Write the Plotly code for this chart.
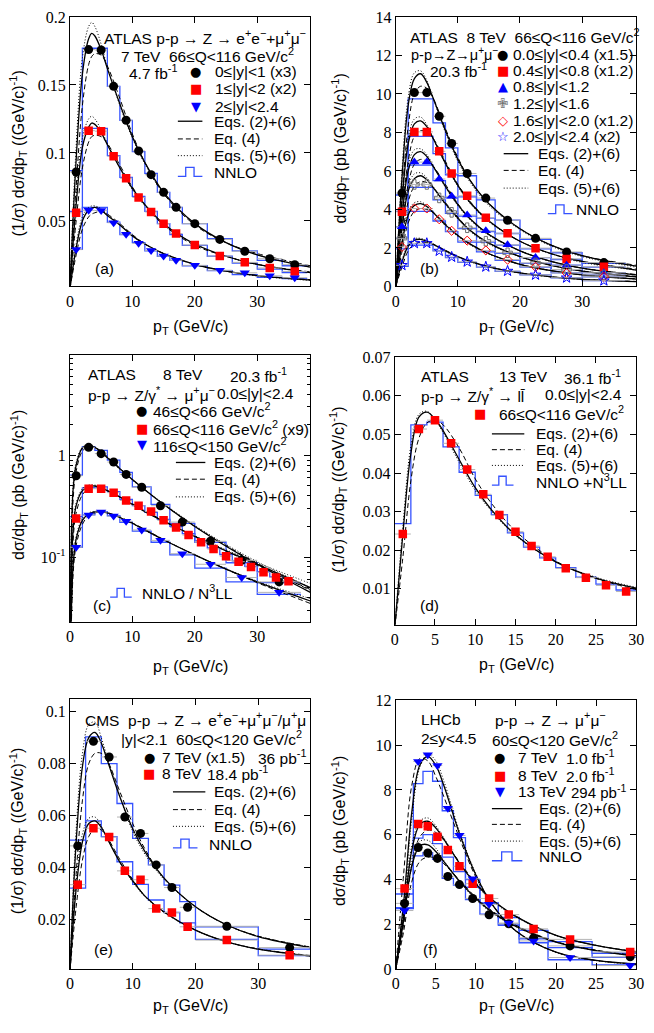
"""
Z boson transverse momentum spectra, six panels, redrawn with plotly.
"""
import plotly.graph_objects as go

# the page body has an 8 px margin, so the figure is placed 8 px in from the corner
OFF = 8
W, H = 654 - OFF, 1033 - OFF
SANS = "Liberation Sans"
SERIF = "Liberation Serif"
BLACK, RED, BLUE, GRAY = "#000000", "#ff0000", "#0000ff", "#6e6e6e"
NNLO_BLUE = "#3552ff"
ERR_GRAY = "#b4b4b4"

# ---------------- (a) ATLAS 7 TeV, normalised
a_pt = [1, 3, 5, 7, 9, 11, 13, 15, 17, 20, 24, 28, 32, 36]
a_y0 = [0.086, 0.176, 0.1757, 0.149, 0.124, 0.1015, 0.084, 0.071, 0.060, 0.048, 0.0364, 0.0277, 0.0222, 0.0178]
a_y1 = [0.056, 0.1164, 0.116, 0.0976, 0.0814, 0.0672, 0.0566, 0.048, 0.0407, 0.0323, 0.0241, 0.0195, 0.0154, 0.0128]
a_y2 = [0.0289, 0.0578, 0.0576, 0.0487, 0.0402, 0.0335, 0.0282, 0.0241, 0.021, 0.0173, 0.0137, 0.0118, 0.0096, 0.0082]
a_edges = [0, 2, 4, 6, 8, 10, 12, 14, 16, 18, 22, 26, 30, 34, 38]
a_nnlo0 = [0.087, 0.177, 0.177, 0.149, 0.124, 0.101, 0.085, 0.071, 0.060, 0.048, 0.037, 0.028, 0.021, 0.017]
a_nnlo1 = [0.057, 0.118, 0.118, 0.098, 0.082, 0.068, 0.057, 0.048, 0.040, 0.032, 0.024, 0.019, 0.0145, 0.012]
a_nnlo2 = [0.029, 0.060, 0.060, 0.049, 0.040, 0.034, 0.028, 0.024, 0.021, 0.017, 0.0135, 0.0105, 0.0085, 0.0075]
a_cx = [0, 1, 2, 3, 3.5, 4, 5, 6, 8, 10, 12, 15, 20, 25, 30, 38.5]
a_sol0 = [0, 0.095, 0.158, 0.184, 0.188, 0.186, 0.176, 0.162, 0.136, 0.112, 0.093, 0.071, 0.048, 0.034, 0.025, 0.016]
a_dsh0 = [0, 0.075, 0.135, 0.165, 0.171, 0.173, 0.172, 0.164, 0.140, 0.114, 0.093, 0.070, 0.047, 0.034, 0.026, 0.017]
a_dot0 = [0, 0.105, 0.170, 0.193, 0.196, 0.193, 0.180, 0.163, 0.135, 0.111, 0.092, 0.070, 0.048, 0.034, 0.025, 0.016]
a_sol1 = [0, 0.062, 0.104, 0.119, 0.122, 0.121, 0.115, 0.106, 0.089, 0.074, 0.062, 0.048, 0.033, 0.024, 0.018, 0.012]
a_dsh1 = [0, 0.050, 0.089, 0.108, 0.112, 0.113, 0.112, 0.107, 0.091, 0.075, 0.062, 0.047, 0.032, 0.024, 0.018, 0.0125]
a_dot1 = [0, 0.068, 0.111, 0.125, 0.127, 0.125, 0.117, 0.107, 0.089, 0.073, 0.061, 0.047, 0.033, 0.024, 0.018, 0.012]
a_sol2 = [0, 0.030, 0.050, 0.058, 0.0595, 0.060, 0.058, 0.054, 0.047, 0.039, 0.033, 0.026, 0.018, 0.013, 0.0098, 0.0065]
a_dsh2 = [0, 0.025, 0.044, 0.053, 0.055, 0.056, 0.057, 0.055, 0.048, 0.040, 0.033, 0.026, 0.018, 0.013, 0.0098, 0.0068]
a_dot2 = [0, 0.033, 0.053, 0.060, 0.061, 0.061, 0.059, 0.055, 0.047, 0.039, 0.033, 0.026, 0.018, 0.013, 0.0095, 0.0063]

# ---------------- (b) ATLAS 8 TeV, rapidity bins
b_pt = [1, 3, 5, 7, 9, 11.5, 14.5, 18, 22.5, 27.5, 33.5]
b_bins = [0, 2, 4, 6, 8, 10, 13, 16, 20, 25, 30, 37]
b_y0 = [4.85, 10.07, 10.07, 8.84, 7.43, 5.87, 4.59, 3.44, 2.5, 1.79, 1.24]
b_y1 = [3.88, 8.03, 8.03, 7.02, 5.87, 4.71, 3.57, 2.76, 1.99, 1.43, 1.02]
b_y2 = [3.1, 6.46, 6.46, 5.58, 4.68, 3.71, 2.89, 2.16, 1.5, 1.1, 0.71]
b_y3 = [2.5, 5.3, 5.3, 4.6, 3.85, 3.05, 2.35, 1.75, 1.22, 0.88, 0.6]
b_y4 = [2.05, 4.05, 4.05, 3.49, 2.89, 2.38, 1.87, 1.39, 1.02, 0.7, 0.5]
b_y5 = [1.1, 2.24, 2.24, 1.84, 1.53, 1.28, 1.02, 0.8, 0.6, 0.45, 0.3]
b_edges = [0, 2, 6, 8, 10, 13, 16, 20, 25, 30, 37]
b_nnlo0 = [4.75, 9.75, 8.5, 7.2, 5.75, 4.5, 3.45, 2.45, 1.75, 1.2]
b_nnlo1 = [3.9, 7.8, 6.9, 5.8, 4.65, 3.55, 2.75, 1.95, 1.4, 1.0]
b_nnlo2 = [3.1, 6.3, 5.5, 4.6, 3.65, 2.85, 2.15, 1.5, 1.1, 0.72]
b_nnlo3 = [2.5, 5.15, 4.5, 3.8, 3.0, 2.3, 1.72, 1.2, 0.87, 0.6]
b_nnlo4 = [1.95, 3.9, 3.4, 2.85, 2.3, 1.8, 1.35, 1.0, 0.7, 0.5]
b_nnlo5 = [1.05, 2.15, 1.85, 1.5, 1.25, 1.0, 0.78, 0.6, 0.45, 0.3]
b_cx = [0, 1, 2, 3, 4, 5, 6, 8, 10, 12, 15, 20, 25, 30, 38.7]
b_sol0 = [0, 5.6, 9.4, 10.8, 11.05, 10.6, 9.8, 8.1, 6.6, 5.5, 4.3, 3.0, 2.15, 1.6, 1.05]
b_dsh0 = [0, 4.6, 8.3, 10.0, 10.4, 10.3, 9.8, 8.2, 6.7, 5.5, 4.3, 3.0, 2.15, 1.6, 1.1]
b_dot0 = [0, 6.0, 9.8, 11.1, 11.2, 10.7, 9.8, 8.0, 6.5, 5.4, 4.2, 2.95, 2.1, 1.55, 1.0]
b_sol1 = [0, 4.4, 7.4, 8.45, 8.6, 8.3, 7.7, 6.4, 5.25, 4.35, 3.4, 2.35, 1.7, 1.3, 0.85]
b_dsh1 = [0, 3.6, 6.5, 7.8, 8.1, 8.0, 7.7, 6.5, 5.3, 4.4, 3.4, 2.35, 1.7, 1.3, 0.9]
b_dot1 = [0, 4.7, 7.7, 8.7, 8.8, 8.4, 7.7, 6.35, 5.2, 4.3, 3.35, 2.35, 1.7, 1.25, 0.85]
b_sol2 = [0, 3.6, 6.0, 6.85, 7.0, 6.75, 6.25, 5.2, 4.25, 3.5, 2.7, 1.85, 1.3, 0.95, 0.6]
b_dsh2 = [0, 2.9, 5.3, 6.35, 6.6, 6.5, 6.25, 5.3, 4.3, 3.5, 2.7, 1.85, 1.3, 0.95, 0.62]
b_dot2 = [0, 3.8, 6.3, 7.1, 7.15, 6.85, 6.3, 5.15, 4.2, 3.45, 2.65, 1.85, 1.3, 0.95, 0.6]
b_sol3 = [0, 3.0, 4.95, 5.6, 5.75, 5.55, 5.15, 4.3, 3.55, 2.9, 2.25, 1.55, 1.1, 0.8, 0.5]
b_dsh3 = [0, 2.4, 4.4, 5.2, 5.45, 5.4, 5.15, 4.35, 3.6, 2.9, 2.25, 1.55, 1.1, 0.8, 0.52]
b_dot3 = [0, 3.2, 5.2, 5.85, 5.9, 5.65, 5.2, 4.25, 3.5, 2.85, 2.2, 1.55, 1.1, 0.8, 0.5]
b_sol4 = [0, 2.2, 3.7, 4.2, 4.3, 4.15, 3.85, 3.2, 2.65, 2.2, 1.7, 1.15, 0.82, 0.6, 0.38]
b_dsh4 = [0, 1.8, 3.3, 3.9, 4.05, 4.0, 3.85, 3.25, 2.65, 2.2, 1.7, 1.15, 0.82, 0.6, 0.4]
b_dot4 = [0, 2.4, 3.9, 4.35, 4.4, 4.2, 3.9, 3.15, 2.6, 2.15, 1.68, 1.15, 0.82, 0.6, 0.38]
b_sol5 = [0, 1.25, 2.1, 2.4, 2.45, 2.35, 2.2, 1.85, 1.55, 1.3, 1.02, 0.7, 0.5, 0.37, 0.25]
b_dsh5 = [0, 1.0, 1.85, 2.2, 2.3, 2.28, 2.2, 1.88, 1.56, 1.3, 1.02, 0.7, 0.5, 0.37, 0.26]
b_dot5 = [0, 1.35, 2.2, 2.48, 2.5, 2.38, 2.2, 1.82, 1.53, 1.28, 1.0, 0.7, 0.5, 0.37, 0.25]

# ---------------- (c) ATLAS 8 TeV, mass bins (log scale)
c_pt = [1, 3, 5, 7, 9, 11.5, 14.5, 18, 22.5, 27.5, 33.5]
c_pt_mid = [1, 3, 5, 7, 9, 11, 13, 15, 17, 19, 21, 23, 25, 27, 29, 31, 33, 35]
c_y0 = [0.63, 1.2, 1.04, 0.86, 0.65, 0.486, 0.32, 0.221, 0.143, 0.093, 0.057]
c_y1 = [0.24, 0.47, 0.47, 0.43, 0.36, 0.32, 0.28, 0.23, 0.195, 0.165, 0.14, 0.12, 0.102, 0.09, 0.08, 0.071, 0.063, 0.058]
c_y2 = [0.125, 0.259, 0.277, 0.253, 0.225, 0.185, 0.146, 0.108, 0.085, 0.063, 0.045]
c_edges = [0, 2, 4, 6, 8, 10, 13, 16, 20, 25, 30, 37]
c_edges_mid = [0, 2, 4, 6, 8, 10, 12, 14, 16, 18, 20, 22, 24, 26, 28, 30, 32, 34, 36]
c_nnlo0 = [0.64, 1.22, 1.12, 0.9, 0.68, 0.49, 0.33, 0.215, 0.14, 0.088, 0.056]
c_nnlo1 = [0.25, 0.48, 0.49, 0.44, 0.37, 0.32, 0.275, 0.235, 0.2, 0.17, 0.145, 0.123, 0.106, 0.092, 0.081, 0.072, 0.064, 0.057]
c_nnlo2 = [0.125, 0.26, 0.28, 0.255, 0.22, 0.18, 0.14, 0.105, 0.078, 0.057, 0.043]
c_cx = [0.05, 0.5, 1, 2, 3, 4, 5, 6, 8, 10, 12, 15, 20, 25, 30, 38.5]
c_sol0 = [0.02, 0.45, 0.8, 1.18, 1.25, 1.2, 1.08, 0.95, 0.74, 0.58, 0.46, 0.33, 0.2, 0.128, 0.085, 0.045]
c_dsh0 = [0.015, 0.35, 0.7, 1.1, 1.22, 1.2, 1.1, 0.97, 0.75, 0.58, 0.46, 0.33, 0.2, 0.13, 0.087, 0.047]
c_dot0 = [0.025, 0.5, 0.85, 1.2, 1.27, 1.2, 1.07, 0.94, 0.73, 0.57, 0.46, 0.335, 0.205, 0.133, 0.09, 0.05]
c_sol1 = [0.01, 0.18, 0.32, 0.45, 0.49, 0.5, 0.48, 0.45, 0.39, 0.33, 0.28, 0.225, 0.16, 0.115, 0.085, 0.05]
c_dsh1 = [0.008, 0.14, 0.27, 0.41, 0.47, 0.49, 0.48, 0.45, 0.39, 0.335, 0.285, 0.228, 0.16, 0.115, 0.083, 0.048]
c_dot1 = [0.012, 0.2, 0.34, 0.47, 0.51, 0.51, 0.49, 0.45, 0.39, 0.33, 0.28, 0.225, 0.162, 0.118, 0.088, 0.055]
c_sol2 = [0.005, 0.08, 0.15, 0.23, 0.265, 0.278, 0.28, 0.272, 0.245, 0.215, 0.185, 0.148, 0.105, 0.076, 0.057, 0.037]
c_dsh2 = [0.004, 0.065, 0.13, 0.21, 0.255, 0.272, 0.278, 0.273, 0.248, 0.217, 0.187, 0.149, 0.105, 0.076, 0.056, 0.035]
c_dot2 = [0.006, 0.09, 0.16, 0.24, 0.272, 0.282, 0.282, 0.272, 0.244, 0.213, 0.183, 0.147, 0.105, 0.077, 0.058, 0.039]

# ---------------- (d) ATLAS 13 TeV, normalised
d_pt = [1, 3, 5, 7, 9, 11, 13, 15, 17, 19, 21.25, 23.75, 26.25, 28.75]
d_y = [0.0242, 0.0514, 0.0537, 0.0477, 0.0409, 0.0345, 0.0291, 0.0248, 0.0211, 0.0183, 0.0153, 0.0129, 0.0109, 0.0093]
d_edges = [0, 2, 4, 6, 8, 10, 12, 14, 16, 18, 20, 22.5, 25, 27.5, 30]
d_nnlo = [0.0269, 0.0525, 0.0532, 0.0468, 0.0402, 0.0342, 0.0292, 0.0245, 0.0208, 0.018, 0.0155, 0.013, 0.0112, 0.0097]
d_cx = [0, 1, 2, 3, 4, 5, 6, 8, 10, 12, 15, 20, 25, 30]
d_sol = [0, 0.024, 0.045, 0.0545, 0.0558, 0.054, 0.051, 0.0435, 0.0362, 0.0305, 0.024, 0.017, 0.0128, 0.0102]
d_dsh = [0, 0.018, 0.038, 0.049, 0.053, 0.0537, 0.0525, 0.0465, 0.0385, 0.0322, 0.025, 0.0172, 0.0127, 0.0098]
d_dot = [0, 0.026, 0.047, 0.0552, 0.056, 0.0538, 0.0505, 0.0428, 0.0355, 0.0302, 0.0238, 0.017, 0.013, 0.0104]

# ---------------- (e) CMS 7 and 8 TeV
e_pt = [1.25, 3.75, 6.25, 8.75, 11.25, 13.75, 16.25, 18.75, 25, 35]
e_y0 = [0.0484, 0.0886, 0.0826, 0.0595, 0.0532, 0.0411, 0.0324, 0.0248, 0.0175, 0.0093]
e_y1 = [0.0335, 0.0552, 0.0518, 0.0388, 0.0354, 0.0243, 0.0228, 0.0173, 0.0122, 0.0064]
e_edges = [0, 2.5, 5, 7.5, 10, 12.5, 15, 17.5, 20, 30, 40]
e_nnlo0 = [0.0506, 0.0903, 0.080, 0.0647, 0.0513, 0.0411, 0.0333, 0.027, 0.0173, 0.0087]
e_nnlo1 = [0.0322, 0.058, 0.052, 0.0423, 0.0336, 0.0276, 0.0228, 0.0188, 0.0125, 0.0062]
e_cx = [0, 1, 2, 3, 4, 5, 6, 8, 10, 12, 15, 20, 25, 30, 38.5]
e_sol0 = [0, 0.05, 0.079, 0.09, 0.092, 0.088, 0.081, 0.067, 0.055, 0.046, 0.036, 0.025, 0.018, 0.0135, 0.0092]
e_dsh0 = [0, 0.038, 0.066, 0.08, 0.084, 0.084, 0.081, 0.069, 0.057, 0.047, 0.036, 0.025, 0.018, 0.0137, 0.0094]
e_dot0 = [0, 0.055, 0.084, 0.095, 0.096, 0.09, 0.082, 0.067, 0.054, 0.045, 0.0355, 0.025, 0.018, 0.0136, 0.0095]
e_sol1 = [0, 0.032, 0.05, 0.057, 0.058, 0.0555, 0.051, 0.042, 0.035, 0.029, 0.023, 0.016, 0.0115, 0.0087, 0.006]
e_dsh1 = [0, 0.025, 0.043, 0.052, 0.055, 0.0545, 0.0515, 0.043, 0.0355, 0.029, 0.023, 0.016, 0.0115, 0.0088, 0.0062]
e_dot1 = [0, 0.035, 0.053, 0.059, 0.0595, 0.056, 0.051, 0.042, 0.0345, 0.0288, 0.0228, 0.016, 0.0115, 0.0087, 0.006]

# ---------------- (f) LHCb 7, 8 and 13 TeV
f_pt = [1.1, 2.8, 4.0, 5.2, 6.5, 7.95, 9.6, 11.65, 14.1, 17.2, 21.75, 29.25]
f_y0 = [2.93, 5.43, 5.18, 4.94, 4.13, 3.77, 3.15, 2.42, 2.02, 1.39, 1.03, 0.54]
f_y1 = [3.59, 6.48, 6.38, 5.91, 5.32, 4.59, 3.81, 3.15, 2.43, 1.79, 1.32, 0.76]
f_y2 = [2.61, 9.27, 9.57, 9.09, 7.18, 5.97, 4.03, 2.89, 2.05, 1.25, 0.51, 0.15]
f_edges = [0, 2.2, 3.4, 4.6, 5.8, 7.2, 8.7, 10.5, 12.8, 15.4, 19, 24.5, 34]
f_nnlo0 = [2.7, 5.05, 5.2, 4.9, 4.05, 3.75, 3.1, 2.45, 1.95, 1.35, 0.95, 0.52]
f_nnlo1 = [3.35, 5.85, 6.0, 5.6, 5.0, 4.35, 3.65, 2.95, 2.3, 1.72, 1.22, 0.7]
f_nnlo2 = [2.74, 8.28, 8.83, 8.39, 7.07, 5.87, 3.99, 2.93, 2.0, 1.17, 0.41, 0.18]
f_cx = [0, 1, 2, 3, 4, 5, 6, 8, 10, 12, 15, 20, 25, 30]
f_sol0 = [0, 2.2, 4.6, 5.5, 5.55, 5.25, 4.8, 3.9, 3.15, 2.55, 1.9, 1.2, 0.82, 0.58]
f_dsh0 = [0, 1.7, 3.9, 4.8, 5.0, 4.95, 4.7, 3.95, 3.2, 2.6, 1.95, 1.22, 0.84, 0.6]
f_dot0 = [0, 2.4, 4.9, 5.7, 5.75, 5.4, 4.85, 3.88, 3.1, 2.5, 1.88, 1.2, 0.82, 0.58]
f_sol1 = [0, 2.4, 5.3, 6.45, 6.6, 6.3, 5.8, 4.7, 3.8, 3.1, 2.35, 1.5, 1.05, 0.75]
f_dsh1 = [0, 2.0, 4.6, 5.9, 6.2, 6.1, 5.75, 4.75, 3.85, 3.1, 2.35, 1.5, 1.05, 0.78]
f_dot1 = [0, 2.6, 5.5, 6.6, 6.75, 6.4, 5.85, 4.7, 3.75, 3.05, 2.32, 1.5, 1.05, 0.75]
f_sol2 = [0, 3.0, 7.0, 9.1, 9.5, 9.1, 8.2, 6.0, 4.2, 2.9, 1.7, 0.75, 0.38, 0.22]
f_dsh2 = [0, 4.3, 8.2, 9.4, 9.3, 8.6, 7.7, 5.8, 4.1, 2.9, 1.7, 0.75, 0.38, 0.22]
f_dot2 = [0, 2.7, 6.7, 9.0, 9.6, 9.3, 8.4, 6.1, 4.25, 2.9, 1.68, 0.74, 0.37, 0.2]


def px(x):
    return (x - OFF) / W


def py(y):
    return 1 - (y - OFF) / H


def ax_names(n):
    s = "" if n == 1 else str(n)
    return "x" + s, "y" + s


def half_widths(edges):
    return [(hi - lo) / 2 for lo, hi in zip(edges[:-1], edges[1:])]


def hist(n, edges, vals):
    xa, ya = ax_names(n)
    return go.Scatter(x=edges, y=list(vals) + [vals[-1]], mode="lines", xaxis=xa, yaxis=ya,
                      line=dict(color=NNLO_BLUE, width=1.3, shape="hv"),
                      showlegend=False, hoverinfo="skip")


DASHES = {"solid": ("solid", 1.3), "dash": ("5px,3px", 1.0), "dot": ("1px,2px", 1.0)}


def curve(n, x, y, style):
    xa, ya = ax_names(n)
    dash, width = DASHES[style]
    return go.Scatter(x=x, y=y, mode="lines", xaxis=xa, yaxis=ya,
                      line=dict(color=BLACK, width=width, dash=dash, shape="spline", smoothing=1.0),
                      showlegend=False, hoverinfo="skip")


def points(n, x, y, symbol, color, size=9, bins=None):
    xa, ya = ax_names(n)
    err = None
    if bins is not None:
        err = dict(type="data", array=half_widths(bins), symmetric=True,
                   color=ERR_GRAY, thickness=1, width=0)
    return go.Scatter(x=x, y=y, mode="markers", xaxis=xa, yaxis=ya, error_x=err,
                      marker=dict(symbol=symbol, color=color, size=size,
                                  line=dict(width=1 if "open" in symbol else 0, color=color)),
                      showlegend=False)


fig = go.Figure()

# panel a
for v in [a_nnlo0, a_nnlo1, a_nnlo2]:
    fig.add_trace(hist(1, a_edges, v))
for ys in [(a_sol0, a_dsh0, a_dot0), (a_sol1, a_dsh1, a_dot1), (a_sol2, a_dsh2, a_dot2)]:
    for y, st in zip(ys, ["solid", "dash", "dot"]):
        fig.add_trace(curve(1, a_cx, y, st))
fig.add_trace(points(1, a_pt, a_y0, "circle", BLACK, bins=a_edges))
fig.add_trace(points(1, a_pt, a_y1, "square", RED, 8.5, bins=a_edges))
fig.add_trace(points(1, a_pt, a_y2, "triangle-down", BLUE, bins=a_edges))

# panel b
for v in [b_nnlo0, b_nnlo1, b_nnlo2, b_nnlo3, b_nnlo4, b_nnlo5]:
    fig.add_trace(hist(2, b_edges, v))
for ys in [(b_sol0, b_dsh0, b_dot0), (b_sol1, b_dsh1, b_dot1), (b_sol2, b_dsh2, b_dot2),
           (b_sol3, b_dsh3, b_dot3), (b_sol4, b_dsh4, b_dot4), (b_sol5, b_dsh5, b_dot5)]:
    for y, st in zip(ys, ["solid", "dash", "dot"]):
        fig.add_trace(curve(2, b_cx, y, st))
fig.add_trace(points(2, b_pt, b_y0, "circle", BLACK, bins=b_bins))
fig.add_trace(points(2, b_pt, b_y1, "square", RED, 8.5, bins=b_bins))
fig.add_trace(points(2, b_pt, b_y2, "triangle-up", BLUE, bins=b_bins))
fig.add_trace(points(2, b_pt, b_y3, "cross-open", GRAY, 8, bins=b_bins))
fig.add_trace(points(2, b_pt, b_y4, "diamond-open", RED, 7, bins=b_bins))
fig.add_trace(points(2, b_pt, b_y5, "star-open", BLUE, 8, bins=b_bins))

# panel c
fig.add_trace(hist(3, c_edges, c_nnlo0))
fig.add_trace(hist(3, c_edges_mid, c_nnlo1))
fig.add_trace(hist(3, c_edges, c_nnlo2))
for ys in [(c_sol0, c_dsh0, c_dot0), (c_sol1, c_dsh1, c_dot1), (c_sol2, c_dsh2, c_dot2)]:
    for y, st in zip(ys, ["solid", "dash", "dot"]):
        fig.add_trace(curve(3, c_cx, y, st))
fig.add_trace(points(3, c_pt, c_y0, "circle", BLACK, bins=c_edges))
fig.add_trace(points(3, c_pt_mid, c_y1, "square", RED, 8.5, bins=c_edges_mid))
fig.add_trace(points(3, c_pt, c_y2, "triangle-down", BLUE, bins=c_edges))

# panel d
fig.add_trace(hist(4, d_edges, d_nnlo))
for y, st in zip([d_sol, d_dsh, d_dot], ["solid", "dash", "dot"]):
    fig.add_trace(curve(4, d_cx, y, st))
fig.add_trace(points(4, d_pt, d_y, "square", RED, 8.5, bins=d_edges))

# panel e
fig.add_trace(hist(5, e_edges, e_nnlo0))
fig.add_trace(hist(5, e_edges, e_nnlo1))
for ys in [(e_sol0, e_dsh0, e_dot0), (e_sol1, e_dsh1, e_dot1)]:
    for y, st in zip(ys, ["solid", "dash", "dot"]):
        fig.add_trace(curve(5, e_cx, y, st))
fig.add_trace(points(5, e_pt, e_y0, "circle", BLACK, bins=e_edges))
fig.add_trace(points(5, e_pt, e_y1, "square", RED, 8.5, bins=e_edges))

# panel f
for v in [f_nnlo0, f_nnlo1, f_nnlo2]:
    fig.add_trace(hist(6, f_edges, v))
for ys in [(f_sol0, f_dsh0, f_dot0), (f_sol1, f_dsh1, f_dot1), (f_sol2, f_dsh2, f_dot2)]:
    for y, st in zip(ys, ["solid", "dash", "dot"]):
        fig.add_trace(curve(6, f_cx, y, st))
fig.add_trace(points(6, f_pt, f_y0, "circle", BLACK, bins=f_edges))
fig.add_trace(points(6, f_pt, f_y1, "square", RED, 8.5, bins=f_edges))
fig.add_trace(points(6, f_pt, f_y2, "triangle-down", BLUE, bins=f_edges))

# ---------------- axes (page pixel boxes: left, right, top, bottom)
boxes = {1: (67, 312, 9, 283), 2: (399, 644, 9, 283), 3: (67, 312, 353, 624),
         4: (398, 644, 355, 627), 5: (67, 312, 703, 977), 6: (399, 644, 704, 977)}
xranges = {1: [0, 38.5], 2: [0, 38.7], 3: [0, 38.5], 4: [0, 30], 5: [0, 38.3], 6: [0, 30]}
yranges = {1: [0.0018, 0.2], 2: [0, 14], 3: [-1.636, 0.984], 4: [0.0007, 0.07],
           5: [0.0011, 0.1047], 6: [0, 12]}
xdt = {1: 10, 2: 10, 3: 10, 4: 5, 5: 10, 6: 5}
ydt = {1: 0.05, 2: 2, 4: 0.01, 5: 0.02, 6: 2}

layout = {}
for n, (l, r, t, b) in boxes.items():
    xa, ya = ax_names(n)
    common = dict(showline=True, linecolor="black", linewidth=1, mirror="ticks", ticks="inside",
                  ticklen=6, tickcolor="black", showgrid=False, zeroline=False,
                  tickfont=dict(family=SERIF, size=16, color="black"))
    layout["xaxis" + xa[1:]] = dict(common, domain=[px(l), px(r)], anchor=ya, range=xranges[n],
                                    dtick=xdt[n], tick0=0)
    yax = dict(common, domain=[py(b), py(t)], anchor=xa, range=yranges[n])
    if n == 3:
        yax.update(type="log", tickvals=[0.1, 1], ticktext=["10<sup>-1</sup>", "1"],
                   minor=dict(ticks="inside", ticklen=3, tickcolor="black",
                              tickvals=[0.03, 0.04, 0.05, 0.06, 0.07, 0.08, 0.09,
                                        0.2, 0.3, 0.4, 0.5, 0.6, 0.7, 0.8, 0.9,
                                        2, 3, 4, 5, 6, 7, 8, 9]))
    else:
        yax.update(dtick=ydt[n], tick0=0)
    layout["yaxis" + ya[1:]] = yax

fig.update_layout(width=W, height=H, margin=dict(l=0, r=0, t=0, b=0),
                  plot_bgcolor="white", paper_bgcolor="white", showlegend=False, **layout)

# ---------------- text, keys and labels
annotations = []
shapes = []
SP = "\u00a0\u00a0"


def note(text, x, y, size=15.5, anchor="left", angle=0):
    annotations.append(dict(text=text, x=px(x), y=py(y), xref="paper", yref="paper",
                            xanchor=anchor, yanchor="middle", showarrow=False, textangle=angle,
                            font=dict(family=SANS, size=size, color="black")))


def glyph(ch, color, x, y, size=13):
    annotations.append(dict(text=ch, x=px(x), y=py(y), xref="paper", yref="paper",
                            xanchor="center", yanchor="middle", showarrow=False,
                            font=dict(family="DejaVu Sans", size=size, color=color)))


def key_line(x0, x1, y, style):
    dash, width = DASHES[style]
    shapes.append(dict(type="line", xref="paper", yref="paper", x0=px(x0), x1=px(x1),
                       y0=py(y), y1=py(y), line=dict(color="black", width=width, dash=dash)))


def key_step(x0, x1, y):
    b_, c_ = x0 + (x1 - x0) * 0.32, x0 + (x1 - x0) * 0.66
    lo, hi = py(y + 4), py(y - 5)
    shapes.append(dict(type="path", xref="paper", yref="paper",
                       path=(f"M {px(x0)},{lo} L {px(b_)},{lo} L {px(b_)},{hi} "
                             f"L {px(c_)},{hi} L {px(c_)},{lo} L {px(x1)},{lo}"),
                       line=dict(color=NNLO_BLUE, width=1.3)))


def line_keys(x0, x1, xt, ys, nnlo_text="NNLO", nnlo_pos=None):
    labels = ["Eqs. (2)+(6)", "Eq. (4)", "Eqs. (5)+(6)"]
    for y, st, lab in zip(ys, ["solid", "dash", "dot"], labels):
        key_line(x0, x1, y, st)
        note(lab, xt, y)
    if nnlo_pos is not None:
        sx0, sx1, sy, tx = nnlo_pos
        key_step(sx0, sx1, sy)
        note(nnlo_text, tx, sy)


# (a)
note("ATLAS p-p → Z → e<sup>+</sup>e<sup>−</sup>+μ<sup>+</sup>μ<sup>−</sup>", 100, 29)
note("7 TeV" + SP + "66≤Q<116 GeV/c<sup>2</sup>", 117, 48)
note("4.7 fb<sup>-1</sup>", 125, 65)
for ch, col, lab, y in [("●", BLACK, "0≤|y|<1 (x3)", 64), ("■", RED, "1≤|y|<2 (x2)", 82),
                        ("▼", BLUE, "2≤|y|<2.4", 100)]:
    glyph(ch, col, 195, y)
    note(lab, 213, y)
line_keys(177, 202, 212, [115, 133, 150], nnlo_pos=(177, 202, 167, 212))
note("(a)", 102, 265, anchor="center")

# (b)
note("ATLAS" + SP + "8 TeV" + SP + "66≤Q<116 GeV/c<sup>2</sup>", 412, 28)
note("p-p→Z→μ<sup>+</sup>μ<sup>−</sup>", 413, 47, size=14.5)
note("20.3 fb<sup>-1</sup>", 432, 63)
for ch, col, lab, y in [("●", BLACK, "0.0≤|y|<0.4 (x1.5)", 47), ("■", RED, "0.4≤|y|<0.8 (x1.2)", 63),
                        ("▲", BLUE, "0.8≤|y|<1.2", 80), ("✙", GRAY, "1.2≤|y|<1.6", 97),
                        ("◇", RED, "1.6≤|y|<2.0 (x1.2)", 114), ("☆", BLUE, "2.0≤|y|<2.4 (x2)", 131)]:
    glyph(ch, col, 508, y)
    note(lab, 516, y)
line_keys(509, 534, 542, [148, 165, 183], nnlo_pos=(554, 579, 205, 581))
note("(b)", 433, 265, anchor="center")

# (c)
note("ATLAS", 83, 373)
note("8 TeV", 160, 373)
note("20.3 fb<sup>-1</sup>", 228, 373)
note("p-p → Z/γ<sup>*</sup> → μ<sup>+</sup>μ<sup>−</sup>", 83, 392)
note("0.0≤|y|<2.4", 297, 392, anchor="right")
for ch, col, lab, y in [("●", BLACK, "46≤Q<66 GeV/c<sup>2</sup>", 409),
                        ("■", RED, "66≤Q<116 GeV/c<sup>2</sup> (x9)", 427),
                        ("▼", BLUE, "116≤Q<150 GeV/c<sup>2</sup>", 444)]:
    glyph(ch, col, 140, y)
    note(lab, 150, y)
line_keys(175, 205, 212, [462, 479, 497])
key_step(108, 130, 595)
note("NNLO / N<sup>3</sup>LL", 138, 594)
note("(c)", 100, 607, anchor="center")

# (d)
note("ATLAS", 423, 375)
note("13 TeV", 502, 375)
note("36.1 fb<sup>-1</sup>", 631, 375, anchor="right")
note("p-p → Z/γ<sup>*</sup> → ll\u0304", 423, 393)
note("0.0≤|y|<2.4", 632, 393, anchor="right")
glyph("■", RED, 485, 412)
note("66≤Q<116 GeV/c<sup>2</sup>", 502, 412)
line_keys(497, 530, 540, [433, 449, 465], nnlo_text="NNLO +N<sup>3</sup>LL", nnlo_pos=(497, 519, 481, 540))
note("(d)", 433, 607, anchor="center")

# (e)
note("CMS" + SP + "p-p → Z → e<sup>+</sup>e<sup>−</sup>+μ<sup>+</sup>μ<sup>−</sup>/μ<sup>+</sup>μ", 80, 723)
note("|y|<2.1" + SP + "60≤Q<120 GeV/c<sup>2</sup>", 117, 742)
glyph("●", BLACK, 148, 762)
note("7 TeV (x1.5)", 159, 762)
note("36 pb<sup>-1</sup>", 257, 762)
glyph("■", RED, 148, 778)
note("8 TeV", 159, 778)
note("18.4 pb<sup>-1</sup>", 205, 778)
line_keys(172, 205, 212, [797, 815, 832], nnlo_pos=(172, 197, 850, 207))
note("(e)", 101, 957, anchor="center")

# (f)
note("LHCb", 423, 723)
note("p-p → Z → μ<sup>+</sup>μ<sup>−</sup>", 498, 723)
note("2≤y<4.5", 423, 743)
note("60≤Q<120 GeV/c<sup>2</sup>", 495, 743)
for ch, col, lab, val, xv, y in [("●", BLACK, "7 TeV", "1.0 fb<sup>-1</sup>", 570, 762),
                                 ("■", RED, "8 TeV", "2.0 fb<sup>-1</sup>", 570, 780),
                                 ("▼", BLUE, "13 TeV", "294 pb<sup>-1</sup>", 576, 797)]:
    glyph(ch, col, 505, y)
    note(lab, 522, y)
    note(val, xv, y, size=15.5 if xv == 570 else 15)
line_keys(497, 528, 543, [814, 830, 847], nnlo_pos=(497, 528, 863, 543))
note("(f)", 434, 957, anchor="center")

# axis titles
norm_title = "(1/σ) dσ/dp<sub>T</sub> ((GeV/c)<sup>-1</sup>)"
abs_title = "dσ/dp<sub>T</sub> (pb (GeV/c)<sup>-1</sup>)"
for x, y, t in [(14, 148, norm_title), (342, 143, abs_title), (15, 485, abs_title),
                (340, 490, norm_title), (14, 837, norm_title), (342, 837, abs_title)]:
    note(t, x, y, size=16, anchor="center", angle=-90)
for x, y in [(190, 325), (522, 325), (190, 670), (522, 668), (190, 1015), (522, 1015)]:
    note("p<sub>T</sub> (GeV/c)", x, y, size=16, anchor="center")

fig.update_layout(annotations=annotations, shapes=shapes)
fig.write_html("out.html")
